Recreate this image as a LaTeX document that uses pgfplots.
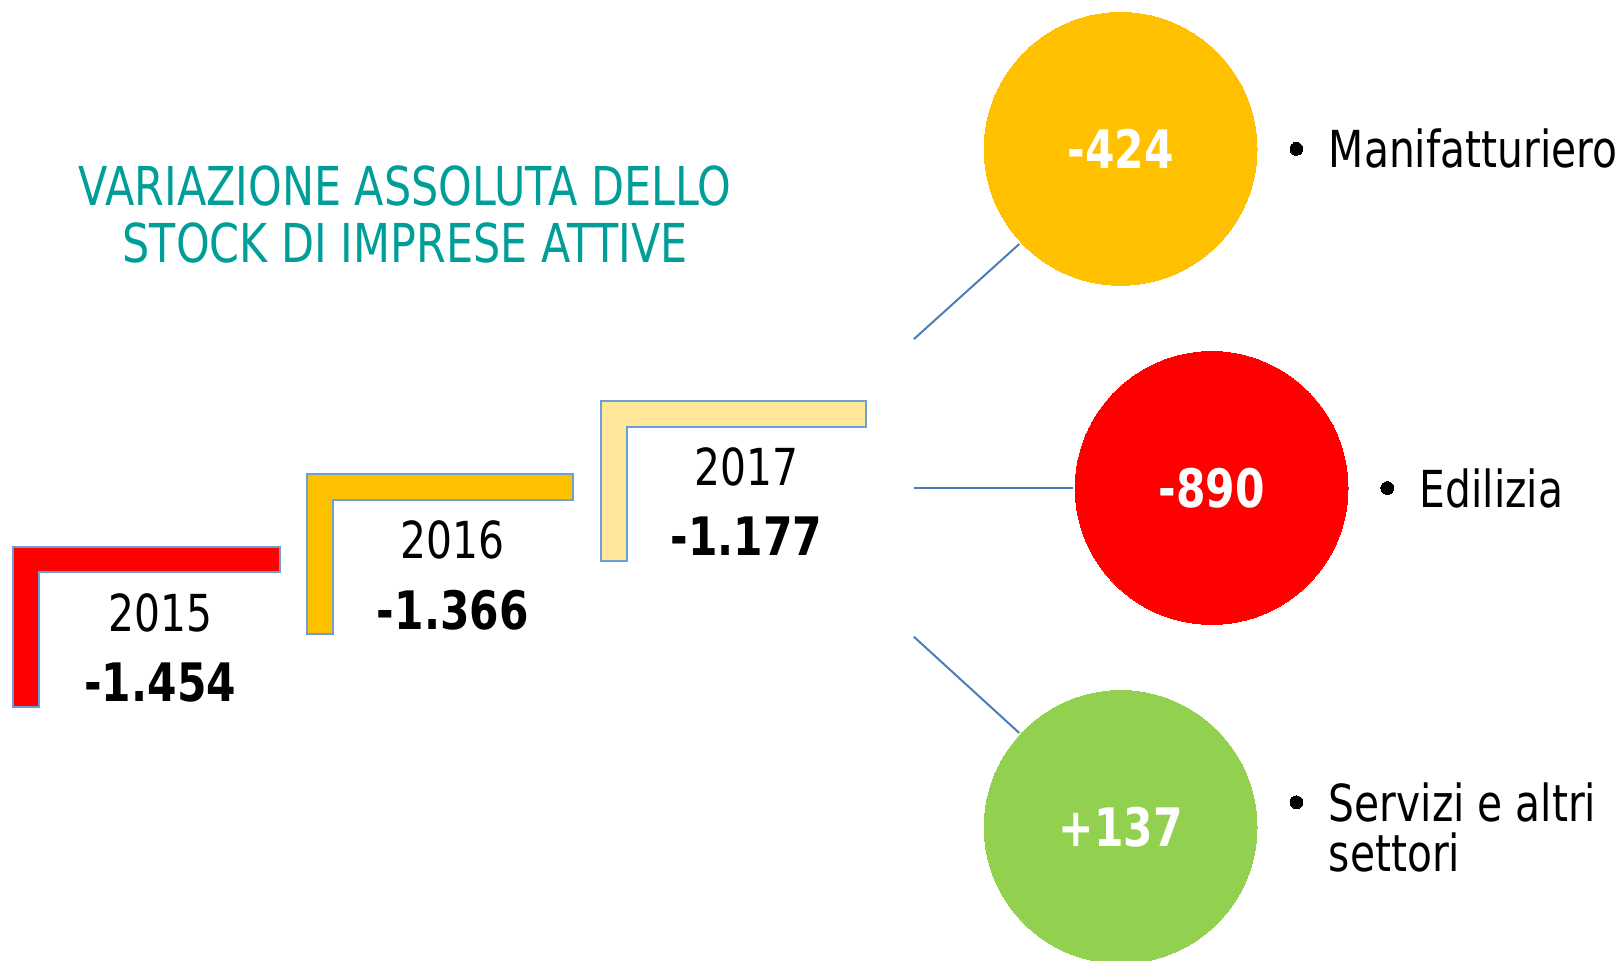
\documentclass[border=0pt]{standalone}
\usepackage{pgfplots}
\pgfplotsset{compat=1.18}
\usepackage{fontspec}
\setmainfont{DejaVu Sans}[FakeStretch=0.8]
\definecolor{cRed}{HTML}{FF0000}
\definecolor{cGold}{HTML}{FFC000}
\definecolor{cLight}{HTML}{FFE699}
\definecolor{cGreen}{HTML}{92D050}
\definecolor{cTeal}{HTML}{009E99}
\definecolor{cEdge}{HTML}{6A9FD8}
\definecolor{cLine}{HTML}{4A7EBB}
\begin{document}
\begin{tikzpicture}
\begin{axis}[name=ax, width=810.5pt, height=480.5pt, scale only axis,
  xmin=0, xmax=1621, ymin=0, ymax=961, y dir=reverse, hide axis, clip=false]
% L shapes (year steps)
\addplot[fill=cRed, draw=cEdge, line width=1pt] coordinates {(13.4,546.9) (280.2,546.9) (280.2,571.7) (39.3,571.7) (39.3,707.1) (13.4,707.1)} -- cycle;
\addplot[fill=cGold, draw=cEdge, line width=1pt] coordinates {(307,474.5) (572.7,474.5) (572.7,500.4) (332.9,500.4) (332.9,633.7) (307,633.7)} -- cycle;
\addplot[fill=cLight, draw=cEdge, line width=1pt] coordinates {(600.6,401.1) (866.3,401.1) (866.3,427) (626.5,427) (626.5,561.4) (600.6,561.4)} -- cycle;
% connector lines
\addplot[draw=cLine, line width=1pt] coordinates {(913.9,339.1) (1019.3,244)};
\addplot[draw=cLine, line width=1pt] coordinates {(913.9,488) (1073,488)};
\addplot[draw=cLine, line width=1pt] coordinates {(913.9,636.8) (1019.3,733)};
% circles
\addplot[only marks, mark=*, mark size=68.2pt, mark options={fill=cGold, draw=cGold, line width=0pt}] coordinates {(1120.6,148.9)};
\addplot[only marks, mark=*, mark size=68.2pt, mark options={fill=cRed, draw=cRed, line width=0pt}] coordinates {(1211.6,488)};
\addplot[only marks, mark=*, mark size=68.2pt, mark options={fill=cGreen, draw=cGreen, line width=0pt}] coordinates {(1120.6,827)};
% bullets
\addplot[only marks, mark=*, mark size=3.2pt, mark options={fill=black, draw=black, line width=0pt}] coordinates {(1296.4,148.9) (1387.3,488) (1296.4,802.2)};
\coordinate (c1) at (axis cs:1120.6,148.9);
\coordinate (c2) at (axis cs:1211.6,488);
\coordinate (c3) at (axis cs:1120.6,827);
% title
\node[text=cTeal, font=\fontsize{26.8}{30}\selectfont] at (axis cs:405.2,186.1) {VARIAZIONE ASSOLUTA DELLO};
\node[text=cTeal, font=\fontsize{26.8}{30}\selectfont] at (axis cs:405.2,243) {STOCK DI IMPRESE ATTIVE};
% years and values
\node[font=\fontsize{25.5}{30}\selectfont] at (axis cs:160.2,613) {2015};
\node[font=\bfseries\fontsize{26.5}{30}\selectfont] at (axis cs:160.2,682.3) {-1.454};
\node[font=\fontsize{25.5}{30}\selectfont] at (axis cs:452.8,539.6) {2016};
\node[font=\bfseries\fontsize{26.5}{30}\selectfont] at (axis cs:452.8,610) {-1.366};
\node[font=\fontsize{25.5}{30}\selectfont] at (axis cs:746.4,467.3) {2017};
\node[font=\bfseries\fontsize{26.5}{30}\selectfont] at (axis cs:746.4,536.5) {-1.177};
% sector labels
\node[anchor=west, inner sep=0pt, font=\fontsize{25.5}{30}\selectfont] at (axis cs:1328.4,148.9) {Manifatturiero};
\node[anchor=west, inner sep=0pt, font=\fontsize{25.5}{30}\selectfont] at (axis cs:1419.4,488) {Edilizia};
\node[anchor=west, inner sep=0pt, font=\fontsize{25.5}{30}\selectfont] at (axis cs:1328.4,802.2) {Servizi e altri};
\node[anchor=west, inner sep=0pt, font=\fontsize{25.5}{30}\selectfont] at (axis cs:1328.4,852.9) {settori};
\end{axis}
% circle values (on top of the circles)
\node[text=white, font=\bfseries\fontsize{26.5}{30}\selectfont] at (c1) {-424};
\node[text=white, font=\bfseries\fontsize{26.5}{30}\selectfont] at (c2) {-890};
\node[text=white, font=\bfseries\fontsize{26.5}{30}\selectfont] at (c3) {+137};
\pgfresetboundingbox
\useasboundingbox (ax.south west) rectangle (ax.north east);
\end{tikzpicture}
\end{document}
